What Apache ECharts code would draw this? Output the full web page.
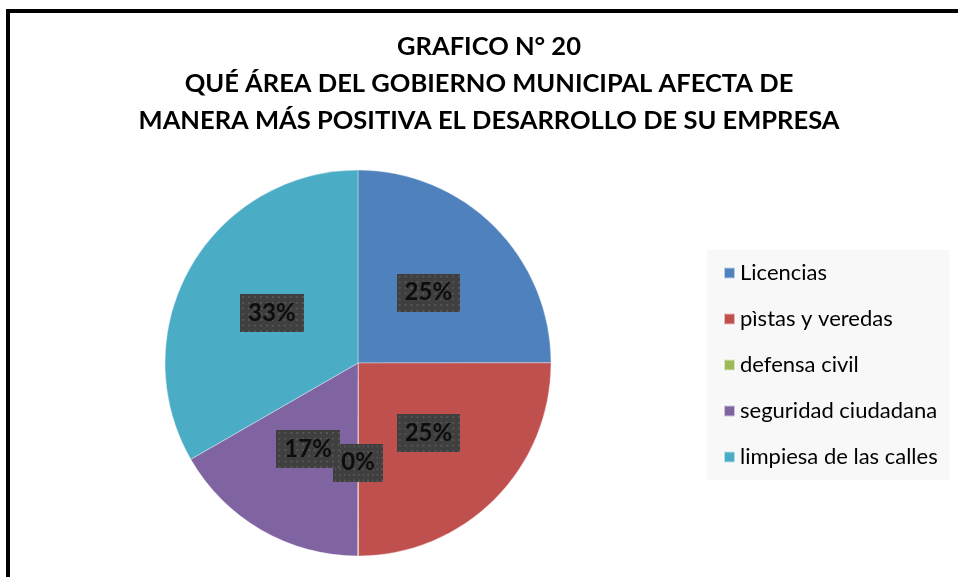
<!DOCTYPE html>
<html>
<head>
<meta charset="utf-8">
<script src="https://cdn.jsdelivr.net/npm/echarts@6/dist/echarts.min.js"></script>
<style>
  html, body { margin: 0; padding: 0; background: #fff; }
  #chart { width: 958px; height: 577px; }
</style>
</head>
<body>
<div id="chart"></div>
<script>
var categories = ['Licencias', 'pìstas y veredas', 'defensa civil', 'seguridad ciudadana', 'limpiesa de las calles'];
var counts = [3, 3, 0, 2, 4];
var colors = ['#4f81bd', '#c0504d', '#9bbb59', '#8064a2', '#4bacc6'];

// dotted dark texture for the data labels
var tex = document.createElement('canvas');
tex.width = 64; tex.height = 40;
var ctx = tex.getContext('2d');
ctx.fillStyle = '#3f3f3f';
ctx.fillRect(0, 0, 64, 40);
ctx.fillStyle = '#565656';
for (var y = 2; y < 40; y += 6) {
  for (var x = 2; x < 64; x += 6) {
    ctx.fillRect(x, y, 2, 2);
  }
}

var chart = echarts.init(document.getElementById('chart'));

var option = {
  color: colors,
  title: {
    text: 'GRAFICO N° 20\nQUÉ ÁREA DEL GOBIERNO MUNICIPAL AFECTA DE\nMANERA MÁS POSITIVA EL DESARROLLO DE SU EMPRESA',
    left: 489,
    textAlign: 'center',
    top: 28,
    padding: 0,
    textStyle: {
      fontFamily: 'Lato',
      fontSize: 25.5,
      fontWeight: 'bold',
      lineHeight: 37,
      color: '#000'
    }
  },
  legend: {
    orient: 'vertical',
    left: 707,
    top: 250,
    padding: [12, 12, 12, 16],
    backgroundColor: '#f8f8f8',
    icon: 'rect',
    itemWidth: 11,
    itemHeight: 11,
    itemGap: 24,
    data: categories,
    textStyle: {
      fontFamily: 'Lato',
      fontSize: 22,
      color: '#000'
    }
  },
  graphic: [{
    type: 'rect',
    silent: true,
    shape: { x: 8, y: 11, width: 960, height: 580 },
    style: { fill: 'none', stroke: '#000', lineWidth: 4 }
  }],
  series: [{
    type: 'pie',
    center: [358, 363],
    radius: 193,
    startAngle: 90,
    clockwise: true,
    minAngle: 0.2,
    minShowLabelAngle: -1,
    avoidLabelOverlap: false,
    labelLayout: { hideOverlap: false },
    itemStyle: { borderColor: 'rgba(255,255,255,0.6)', borderWidth: 0.6 },
    label: {
      show: true,
      position: 'inside',
      formatter: function (p) { return Math.round(p.value / 12 * 100) + '%'; },
      fontFamily: 'Lato',
      fontSize: 24,
      fontWeight: 'bold',
      color: '#0d0d0d',
      lineHeight: 28,
      padding: [5, 8],
      backgroundColor: { image: tex },
      shadowColor: 'rgba(0,0,0,0.55)',
      shadowBlur: 5,
      shadowOffsetX: 3,
      shadowOffsetY: 3
    },
    labelLine: { show: false },
    emphasis: { disabled: true },
    data: categories.map(function (c, i) {
      return { name: c, value: counts[i] };
    })
  }]
};

chart.setOption(option);
</script>
</body>
</html>
